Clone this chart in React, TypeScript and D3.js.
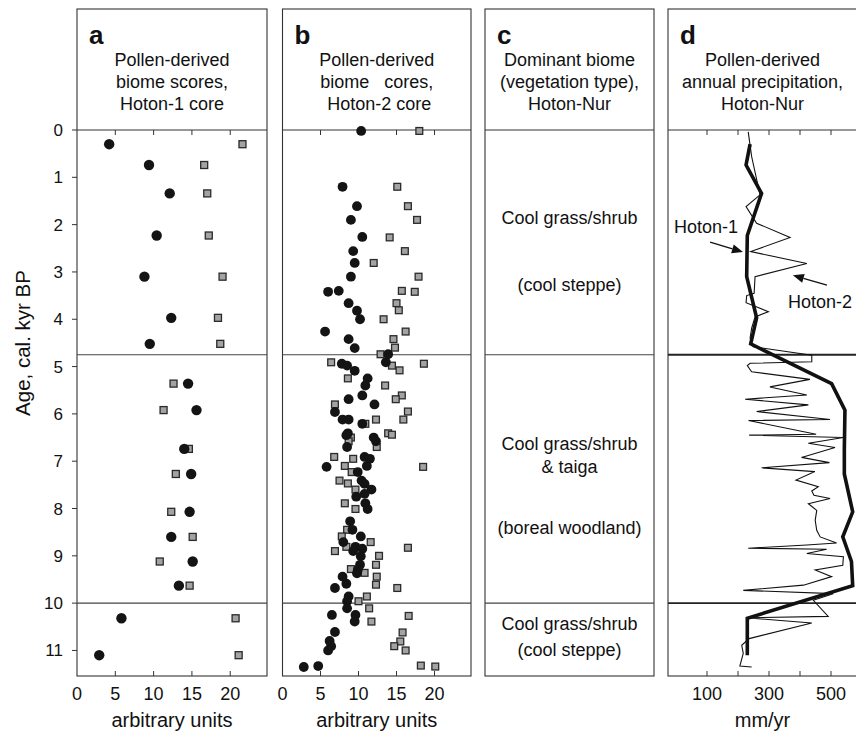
import React from 'react';
import * as d3 from 'd3';

// ---------- data ----------
const ageTicks = [0, 1, 2, 3, 4, 5, 6, 7, 8, 9, 10, 11];
const scoreTicks = [0, 5, 10, 15, 20];
const precipTicks = [100, 200, 300, 400, 500];
const precipLabels = [100, 300, 500];
const zoneBounds = [4.75, 10];

// Panel a: Hoton-1 core biome scores
const aAges = [0.30, 0.74, 1.34, 2.23, 3.10, 3.97, 4.52, 5.36, 5.92, 6.74, 7.27, 8.07, 8.60, 9.12, 9.63, 10.32, 11.10];
const aCircle = [4.2, 9.4, 12.1, 10.4, 8.8, 12.3, 9.5, 14.5, 15.6, 14.0, 14.9, 14.7, 12.3, 15.1, 13.3, 5.8, 2.9];
const aSquare = [21.6, 16.6, 17.0, 17.2, 19.0, 18.4, 18.7, 12.6, 11.3, 14.6, 12.9, 12.3, 15.1, 10.8, 14.7, 20.7, 21.1];

// Panel b: Hoton-2 core biome scores
const bCircleAge = [0.02, 1.20, 1.61, 1.90, 2.26, 2.56, 2.81, 3.10, 3.40, 3.42, 3.66, 3.82, 4.00, 4.26, 4.42, 4.61, 4.74, 4.91, 4.94, 4.98, 5.09, 5.25, 5.40, 5.61, 5.69, 5.80, 5.96, 6.12, 6.12, 6.21, 6.41, 6.45, 6.50, 6.58, 6.70, 6.91, 6.95, 7.12, 7.10, 7.23, 7.41, 7.48, 7.60, 7.69, 7.75, 7.89, 8.01, 8.27, 8.45, 8.59, 8.71, 8.81, 8.85, 8.90, 9.01, 9.19, 9.30, 9.37, 9.44, 9.59, 9.68, 9.86, 9.96, 10.11, 10.25, 10.25, 10.39, 10.61, 10.80, 10.91, 11.00, 11.33, 11.35];
const bCircle = [10.35, 7.9, 9.8, 9.0, 10.5, 9.3, 9.5, 9.0, 7.4, 6.0, 8.7, 9.8, 10.2, 5.6, 8.7, 9.5, 13.9, 13.6, 7.8, 8.5, 9.5, 11.2, 10.9, 10.5, 8.7, 12.1, 6.9, 7.9, 8.7, 10.5, 8.6, 8.4, 12.0, 12.3, 8.5, 10.8, 11.5, 5.8, 11.1, 9.9, 10.4, 10.8, 11.7, 10.8, 9.7, 10.9, 11.2, 8.9, 9.2, 10.3, 8.0, 9.6, 10.5, 9.3, 10.3, 10.2, 9.9, 9.8, 7.9, 8.4, 6.9, 8.7, 8.5, 8.5, 6.5, 9.6, 9.5, 6.9, 6.2, 6.4, 6.0, 4.7, 2.8];
const bSquareAge = [0.02, 1.20, 1.61, 1.90, 2.27, 2.56, 2.81, 3.10, 3.40, 3.42, 3.66, 3.81, 4.00, 4.26, 4.42, 4.60, 4.74, 4.91, 4.94, 4.98, 5.08, 5.25, 5.40, 5.61, 5.69, 5.80, 5.95, 6.12, 6.12, 6.21, 6.41, 6.44, 6.50, 6.58, 6.70, 6.91, 6.95, 7.10, 7.12, 7.23, 7.41, 7.47, 7.60, 7.89, 8.01, 8.45, 8.59, 8.71, 8.81, 8.83, 8.90, 9.00, 9.19, 9.28, 9.36, 9.44, 9.61, 9.68, 9.86, 9.96, 10.11, 10.27, 10.39, 10.62, 10.81, 10.91, 11.00, 11.32, 11.34];
const bSquare = [18.0, 15.1, 16.5, 17.7, 14.1, 16.1, 12.0, 17.9, 15.7, 17.4, 15.0, 15.3, 13.3, 16.2, 14.6, 14.8, 12.9, 6.4, 18.6, 14.4, 15.4, 8.6, 13.5, 15.7, 14.9, 6.9, 16.5, 12.3, 15.9, 10.9, 13.9, 14.4, 9.0, 8.7, 12.4, 6.8, 9.3, 8.2, 18.5, 9.1, 7.5, 8.6, 9.6, 8.2, 9.6, 8.5, 7.8, 11.6, 8.4, 16.5, 6.9, 12.7, 12.3, 9.0, 10.8, 12.4, 12.3, 15.1, 11.1, 10.0, 11.4, 16.6, 11.7, 15.8, 15.5, 14.7, 16.2, 18.2, 20.1];

// Panel c: dominant biome zones
const biomeLabels = [
  ['Cool grass/shrub', '(cool steppe)'],
  ['Cool grass/shrub', '& taiga', '(boreal woodland)'],
  ['Cool grass/shrub', '(cool steppe)'],
];
const biomeLabelAges = [
  [1.85, 3.28],
  [6.64, 7.12, 8.42],
  [10.45, 10.98],
];

// Panel d: pollen-derived annual precipitation (mm/yr)
const h1Ages = [0.30, 0.74, 1.34, 2.23, 3.10, 3.97, 4.52, 5.36, 5.92, 6.74, 7.27, 8.07, 8.60, 9.12, 9.63, 10.32, 11.10];
const h1Precip = [239, 226, 276, 230, 228, 260, 241, 502, 545, 543, 543, 570, 538, 566, 570, 230, 230];
const h2Ages = [0.04, 0.56, 1.37, 1.62, 1.97, 2.27, 2.57, 2.82, 3.10, 3.45, 3.50, 3.65, 3.84, 3.95, 4.19, 4.40, 4.58, 4.76, 4.90, 4.93, 4.98, 5.11, 5.27, 5.43, 5.60, 5.69, 5.81, 5.95, 6.12, 6.14, 6.43, 6.45, 6.50, 6.62, 6.71, 6.92, 7.03, 7.14, 7.22, 7.40, 7.54, 7.63, 7.72, 7.79, 7.90, 8.04, 8.25, 8.46, 8.60, 8.73, 8.77, 8.84, 8.86, 8.95, 9.02, 9.20, 9.30, 9.44, 9.62, 9.73, 9.80, 9.94, 10.28, 10.31, 10.42, 10.75, 10.89, 11.06, 11.33, 11.35];
const h2Precip = [233, 244, 271, 226, 260, 368, 241, 422, 255, 252, 228, 226, 298, 255, 244, 239, 249, 438, 438, 239, 230, 244, 432, 303, 422, 223, 427, 260, 497, 234, 452, 236, 540, 427, 513, 405, 495, 276, 448, 387, 459, 438, 445, 497, 427, 454, 449, 454, 465, 518, 422, 233, 486, 422, 540, 538, 449, 502, 411, 217, 507, 443, 491, 228, 438, 236, 212, 217, 206, 244];

// ---------- layout ----------
const W = 856, H = 735;
const TOP = 9, AXIS0 = 130, BOTTOM = 676;
const FONT = 'Liberation Sans, Arial, Helvetica, sans-serif';

const y = d3.scaleLinear().domain([0, 11.54]).range([AXIS0, BOTTOM]);
const xA = d3.scaleLinear().domain([0, 24.8]).range([77, 267]);
const xB = d3.scaleLinear().domain([0, 24.8]).range([282.5, 471]);
const xC = d3.scaleLinear().domain([0, 1]).range([485, 654]);
const xD = d3.scaleLinear().domain([100 - 39 / 0.31, 100 + 150 / 0.31]).range([668, 857]);

function Frame({ x, letter, title }: { x: d3.ScaleLinear<number, number>; letter: string; title: string[] }) {
  const [x0, x1] = x.range();
  const cx = (x0 + x1) / 2;
  return (
    <g>
      <rect x={x0} y={TOP} width={x1 - x0} height={BOTTOM - TOP} fill="none" stroke="#333" strokeWidth={1.1} />
      <line x1={x0} x2={x1} y1={AXIS0} y2={AXIS0} stroke="#333" strokeWidth={1.1} />
      <text x={x0 + 12} y={44} fontFamily={FONT} fontWeight="bold" fontSize={26} fill="#111">{letter}</text>
      {title.map((t, i) => (
        <text key={i} x={cx} y={66 + i * 22} textAnchor="middle" fontFamily={FONT} fontSize={18} fill="#111" style={{ whiteSpace: 'pre' }}>{t}</text>
      ))}
    </g>
  );
}

function ZoneLines({ x, w = 1.1, c = '#444' }: { x: d3.ScaleLinear<number, number>; w?: number; c?: string }) {
  const [x0, x1] = x.range();
  return (
    <g>
      {zoneBounds.map((b) => (
        <line key={b} x1={x0} x2={x1} y1={y(b)} y2={y(b)} stroke={c} strokeWidth={w} />
      ))}
    </g>
  );
}

function XTicks({ x, ticks, labels, title }: { x: d3.ScaleLinear<number, number>; ticks: number[]; labels: number[]; title: string }) {
  const [x0, x1] = x.range();
  return (
    <g>
      {ticks.map((t) => (
        <g key={t}>
          <line x1={x(t)} x2={x(t)} y1={AXIS0} y2={AXIS0 + 5} stroke="#333" />
          <line x1={x(t)} x2={x(t)} y1={BOTTOM} y2={BOTTOM - 5} stroke="#333" />
        </g>
      ))}
      {labels.map((t) => (
        <text key={t} x={x(t)} y={700} textAnchor="middle" fontFamily={FONT} fontSize={18} fill="#111">{t}</text>
      ))}
      <text x={(x0 + x1) / 2} y={727} textAnchor="middle" fontFamily={FONT} fontSize={20} fill="#111">{title}</text>
    </g>
  );
}

function Circles({ x, ages, vals, r }: { x: d3.ScaleLinear<number, number>; ages: number[]; vals: number[]; r: number }) {
  return (
    <g>
      {ages.map((a, i) => (
        <circle key={i} cx={x(vals[i])} cy={y(a)} r={r} fill="#141414" />
      ))}
    </g>
  );
}

function Squares({ x, ages, vals, s }: { x: d3.ScaleLinear<number, number>; ages: number[]; vals: number[]; s: number }) {
  return (
    <g>
      {ages.map((a, i) => (
        <rect key={i} x={x(vals[i]) - s / 2} y={y(a) - s / 2} width={s} height={s} fill="#a3a3a3" stroke="#2a2a2a" strokeWidth={1.3} />
      ))}
    </g>
  );
}

function Arrow({ tail, head }: { tail: [number, number]; head: [number, number] }) {
  const x1 = xD(tail[1]), y1 = y(tail[0]), x2 = xD(head[1]), y2 = y(head[0]);
  const ang = Math.atan2(y2 - y1, x2 - x1);
  const L = 11, Wd = 4.5;
  const bx = x2 - L * Math.cos(ang), by = y2 - L * Math.sin(ang);
  const px = -Math.sin(ang) * Wd, py = Math.cos(ang) * Wd;
  return (
    <g>
      <line x1={x1} y1={y1} x2={bx} y2={by} stroke="#111" strokeWidth={1.3} />
      <polygon points={`${x2},${y2} ${bx + px},${by + py} ${bx - px},${by - py}`} fill="#111" />
    </g>
  );
}

export default function App() {
  const h1Path = d3.line<number>().x((v) => xD(v)).y((_, i) => y(h1Ages[i]))(h1Precip) || '';
  const h2Path = d3.line<number>().x((v) => xD(v)).y((_, i) => y(h2Ages[i]))(h2Precip) || '';
  return (
    <div>
      <style>{`body{margin:0}`}</style>
      <svg width={W} height={H} style={{ display: 'block', background: '#fff' }}>
        {/* y axis */}
        {ageTicks.map((t) => (
          <g key={t}>
            <line x1={72} x2={77} y1={y(t)} y2={y(t)} stroke="#333" />
            <text x={63} y={y(t) + 6} textAnchor="end" fontFamily={FONT} fontSize={17} fill="#111">{t}</text>
          </g>
        ))}
        <text transform={`translate(30,343) rotate(-90)`} textAnchor="middle" fontFamily={FONT} fontSize={20.5} fill="#111">Age, cal. kyr BP</text>

        {/* panel a */}
        <Frame x={xA} letter="a" title={['Pollen-derived', 'biome scores,', 'Hoton-1 core']} />
        <ZoneLines x={xA} />
        <XTicks x={xA} ticks={scoreTicks.slice(1)} labels={scoreTicks} title="arbitrary units" />
        <Squares x={xA} ages={aAges} vals={aSquare} s={7} />
        <Circles x={xA} ages={aAges} vals={aCircle} r={5.2} />

        {/* panel b */}
        <Frame x={xB} letter="b" title={['Pollen-derived', 'biome   cores,', ' Hoton-2 core']} />
        <ZoneLines x={xB} />
        <XTicks x={xB} ticks={scoreTicks.slice(1)} labels={scoreTicks} title="arbitrary units" />
        <Squares x={xB} ages={bSquareAge} vals={bSquare} s={6.8} />
        <Circles x={xB} ages={bCircleAge} vals={bCircle} r={4.9} />

        {/* panel c */}
        <Frame x={xC} letter="c" title={['Dominant biome', '(vegetation type),', 'Hoton-Nur']} />
        <ZoneLines x={xC} />
        {biomeLabels.map((grp, gi) =>
          grp.map((t, i) => (
            <text key={`${gi}-${i}`} x={xC(0.5)} y={y(biomeLabelAges[gi][i]) + 6} textAnchor="middle" fontFamily={FONT} fontSize={18} fill="#111">{t}</text>
          ))
        )}

        {/* panel d */}
        <Frame x={xD} letter="d" title={['Pollen-derived', 'annual precipitation,', 'Hoton-Nur']} />
        <ZoneLines x={xD} w={1.8} c="#222" />
        <XTicks x={xD} ticks={precipTicks} labels={precipLabels} title="mm/yr" />
        <path d={h2Path} fill="none" stroke="#111" strokeWidth={1.1} strokeLinejoin="miter" />
        <path d={h1Path} fill="none" stroke="#111" strokeWidth={3.6} strokeLinejoin="miter" />
        <text x={xD(200)} y={y(2.18)} textAnchor="end" fontFamily={FONT} fontSize={18} fill="#111">Hoton-1</text>
        <Arrow tail={[2.37, 110]} head={[2.58, 216]} />
        <text x={xD(361)} y={y(3.76)} textAnchor="start" fontFamily={FONT} fontSize={18} fill="#111">Hoton-2</text>
        <Arrow tail={[3.28, 487]} head={[3.07, 377]} />
      </svg>
    </div>
  );
}
